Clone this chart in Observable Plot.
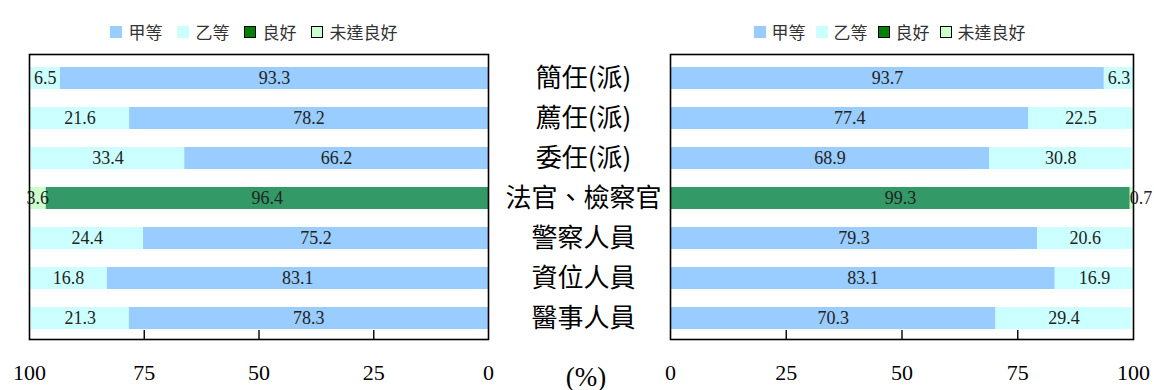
<!DOCTYPE html>
<html>
<head>
<meta charset="utf-8">
<script src="https://cdn.jsdelivr.net/npm/d3@7"></script>
<script src="https://cdn.jsdelivr.net/npm/@observablehq/plot@0.6"></script>
<style>
  body { margin: 0; background: #fff; }
  #wrap { position: relative; width: 1154px; height: 390px; overflow: hidden; }
  #wrap > svg { position: absolute; top: 0; }
  .legend { position: absolute; top: 19px; display: flex; align-items: center;
            font-family: "Noto Sans CJK TC", "Noto Sans", sans-serif; font-size: 17px; color: #333; white-space: nowrap; }
  .legend .sw { display: inline-block; width: 12px; height: 12px; box-sizing: border-box; }
  .pct { position: absolute; left: 586px; top: 377px; transform: translate(-50%, -50%);
         font-family: "Liberation Serif", serif; font-size: 27px; color: #000; }
</style>
</head>
<body>
<div id="wrap"></div>
<script>
const categories = ["簡任(派)", "薦任(派)", "委任(派)", "法官、檢察官", "警察人員", "資位人員", "醫事人員"];
const firstKinds  = ["甲等", "甲等", "甲等", "良好", "甲等", "甲等", "甲等"];
const secondKinds = ["乙等", "乙等", "乙等", "未達良好", "乙等", "乙等", "乙等"];
const leftFirst   = [93.3, 78.2, 66.2, 96.4, 75.2, 83.1, 78.3];
const leftSecond  = [6.5, 21.6, 33.4, 3.6, 24.4, 16.8, 21.3];
const rightFirst  = [93.7, 77.4, 68.9, 99.3, 79.3, 83.1, 70.3];
const rightSecond = [6.3, 22.5, 30.8, 0.7, 20.6, 16.9, 29.4];
const legendKeys   = ["甲等", "乙等", "良好", "未達良好"];
const barColors    = ["#99CCFF", "#CCFFFF", "#339966", "#CCFFCC"];
const legendColors = ["#99CCFF", "#CCFFFF", "#008000", "#CCFFCC"];
const legendBorder = [false, false, true, true];
const tickValues = [0, 25, 50, 75, 100];
const innerTicks = [25, 50, 75];

function rows(first, second) {
  const out = [];
  categories.forEach((c, i) => {
    out.push({cat: c, kind: firstKinds[i], value: first[i]});
    out.push({cat: c, kind: secondKinds[i], value: second[i]});
  });
  return out;
}
const fmt = d3.format(".1f");
const serif = "'Liberation Serif', 'Times New Roman', serif";

function panel({data, reverse, width, marginLeft, marginRight, extra = []}) {
  return Plot.plot({
    width, height: 390,
    marginTop: 54, marginBottom: 51, marginLeft, marginRight,
    style: {fontFamily: serif, background: "transparent", overflow: "visible"},
    x: {domain: [0, 100], reverse, axis: null, label: null},
    y: {type: "band", domain: categories, range: [56, 339.7], paddingInner: 0.447, paddingOuter: 0.2235, axis: null, label: null},
    color: {type: "ordinal", domain: legendKeys, range: barColors},
    marks: [
      Plot.barX(data, Plot.stackX({x: "value", y: "cat", fill: "kind"})),
      Plot.textX(data, Plot.stackX({x: "value", y: "cat", text: d => d.value >= 1 ? fmt(d.value) : "",
        fontSize: 18, fill: "#222", fontFamily: serif})),
      Plot.textX(data, Plot.stackX({x: "value", y: "cat", text: d => d.value < 1 ? fmt(d.value) : "",
        fontSize: 18, fill: "#222", fontFamily: serif, dx: 9})),
      Plot.frame({stroke: "#000", strokeWidth: 1.6}),
      Plot.ruleX(innerTicks, {stroke: "#000", strokeWidth: 1.4, insetTop: 276}),
      Plot.axisX(tickValues, {anchor: "bottom", tickSize: 0, tickPadding: 25, fontSize: 22, fill: "#000", fontFamily: serif, label: null}),
      ...extra
    ]
  });
}

const wrap = document.getElementById("wrap");

const left = panel({data: rows(leftFirst, leftSecond), reverse: true, width: 500, marginLeft: 29, marginRight: 12});
left.style.left = "0px";
wrap.appendChild(left);

const right = panel({data: rows(rightFirst, rightSecond), reverse: false, width: 664, marginLeft: 180, marginRight: 21,
  extra: [Plot.axisY({anchor: "left", tickSize: 0, tickPadding: 87, textAnchor: "middle", fontSize: 26, label: null,
    fontFamily: "'Noto Sans CJK TC', sans-serif", fontWeight: 400, fill: "#000"})]});
right.style.left = "490px";
wrap.appendChild(right);

function legend(center, gapAfterText, gapSwatch) {
  const div = document.createElement("div");
  div.className = "legend";
  legendKeys.forEach((k, i) => {
    const item = document.createElement("span");
    item.style.display = "inline-flex";
    item.style.alignItems = "center";
    item.style.marginRight = i < legendKeys.length - 1 ? gapAfterText + "px" : "0";
    const sw = document.createElement("span");
    sw.className = "sw";
    sw.style.background = legendColors[i];
    sw.style.marginRight = gapSwatch + "px";
    if (legendBorder[i]) sw.style.border = "1.5px solid #000";
    item.appendChild(sw);
    const t = document.createElement("span");
    t.textContent = k;
    item.appendChild(t);
    div.appendChild(item);
  });
  wrap.appendChild(div);
  const w = div.getBoundingClientRect().width;
  div.style.left = (center - w / 2) + "px";
}
legend(253.5, 14, 7);
legend(889.5, 10, 6);

const pct = document.createElement("div");
pct.className = "pct";
pct.textContent = "(%)";
wrap.appendChild(pct);
</script>
</body>
</html>
